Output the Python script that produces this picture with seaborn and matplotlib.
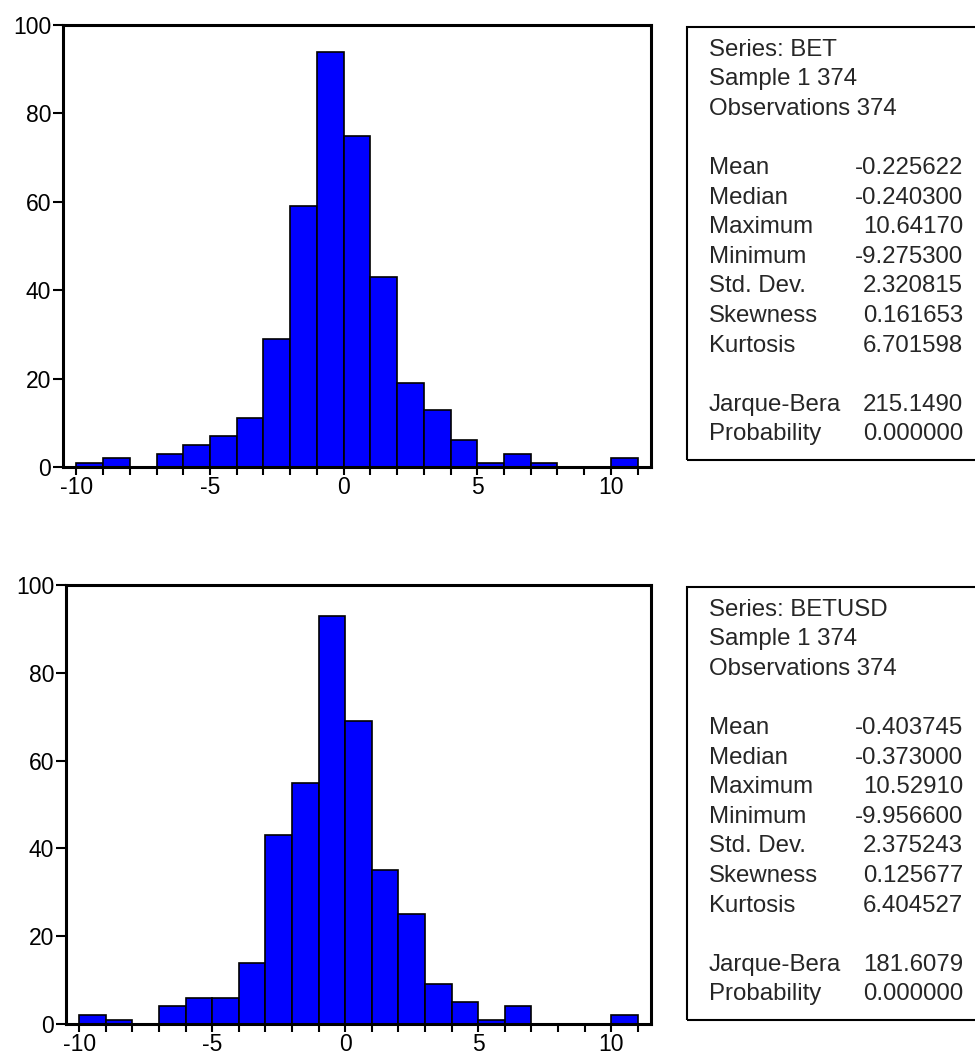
import matplotlib
matplotlib.use("Agg")
import matplotlib.pyplot as plt
import seaborn as sns
import numpy as np
from matplotlib.patches import Rectangle

# ---- data ----
bin_edges = list(range(-10, 12))  # -10 .. 11, width 1
counts_bet = [1, 2, 0, 3, 5, 7, 11, 29, 59, 94, 75, 43, 19, 13, 6, 1, 3, 1, 0, 0, 2]
counts_betusd = [2, 1, 0, 4, 6, 6, 14, 43, 55, 93, 69, 35, 25, 9, 5, 1, 4, 0, 0, 0, 2]
y_ticks = [0, 20, 40, 60, 80, 100]
x_tick_positions = list(range(-10, 12))
x_tick_labels = ["-10", "-5", "0", "5", "10"]

header_bet = ["Series: BET", "Sample 1 374", "Observations 374"]
header_betusd = ["Series: BETUSD", "Sample 1 374", "Observations 374"]
stat_names = ["Mean", "Median", "Maximum", "Minimum", "Std. Dev.", "Skewness", "Kurtosis"]
stat_vals_bet = ["-0.225622", "-0.240300", "10.64170", "-9.275300", "2.320815", "0.161653", "6.701598"]
stat_vals_betusd = ["-0.403745", "-0.373000", "10.52910", "-9.956600", "2.375243", "0.125677", "6.404527"]
test_names = ["Jarque-Bera", "Probability"]
test_vals_bet = ["215.1490", "0.000000"]
test_vals_betusd = ["181.6079", "0.000000"]

# ---- style ----
sns.set_style("ticks")
plt.rcParams["font.family"] = ["Liberation Sans", "DejaVu Sans"]

W, H = 975, 1058
fig = plt.figure(figsize=(W / 100, H / 100), dpi=100)

def fx(px):
    return px / W

def fy(py):
    return 1 - py / H

def draw_hist(rect, counts):
    ax = fig.add_axes(rect)
    centers = [e + 0.5 for e in bin_edges[:-1]]
    sns.histplot(x=centers, weights=counts, bins=bin_edges, ax=ax,
                 color="#0000FF", edgecolor="black", linewidth=1.2, alpha=1)
    ax.set_xlim(-10.5, 11.5)
    ax.set_ylim(0, 100)
    ax.set_xlabel("")
    ax.set_ylabel("")
    ax.set_yticks(y_ticks)
    ax.set_yticklabels([str(v) for v in y_ticks])
    labels = [str(v) if str(v) in x_tick_labels else "" for v in x_tick_positions]
    ax.set_xticks(x_tick_positions)
    ax.set_xticklabels(labels)
    for s in ax.spines.values():
        s.set_visible(True)
        s.set_linewidth(2.2)
        s.set_color("black")
    ax.tick_params(axis="both", direction="out", length=7, width=1.5,
                   labelsize=16.5, colors="black", pad=1.5)
    ax.tick_params(axis="x", length=6, pad=0.5)
    ax.grid(False)
    return ax

# top axes: left 63, right 651, top 25, bottom 468
draw_hist([fx(63), fy(467), fx(651) - fx(63), (467 - 25) / H], counts_bet)
# bottom axes: left 66, right 651, top 585, bottom 1025
draw_hist([fx(66), fy(1024), fx(651) - fx(66), (1024 - 585) / H], counts_betusd)

def draw_box(y0, header, vals, tvals):
    # box border
    top, bottom = y0 + 27, y0 + 460
    fig.patches.append(Rectangle((fx(687), fy(bottom)), fx(1000) - fx(687),
                                 (bottom - top) / H, transform=fig.transFigure,
                                 fill=False, edgecolor="black", linewidth=1.5,
                                 clip_on=False))
    rows = []
    for h in header:
        rows.append((h, ""))
    rows.append(None)
    for n, v in zip(stat_names, vals):
        rows.append((n, v))
    rows.append(None)
    for n, v in zip(test_names, tvals):
        rows.append((n, v))
    for i, r in enumerate(rows):
        if r is None:
            continue
        base = y0 + 55.5 + i * 29.6
        fig.text(fx(709), fy(base), r[0], fontsize=17.3, ha="left", va="baseline")
        if r[1]:
            fig.text(fx(963), fy(base), r[1], fontsize=17.3, ha="right", va="baseline")

draw_box(0, header_bet, stat_vals_bet, test_vals_bet)
draw_box(560, header_betusd, stat_vals_betusd, test_vals_betusd)

fig.savefig("out.png", dpi=100)
